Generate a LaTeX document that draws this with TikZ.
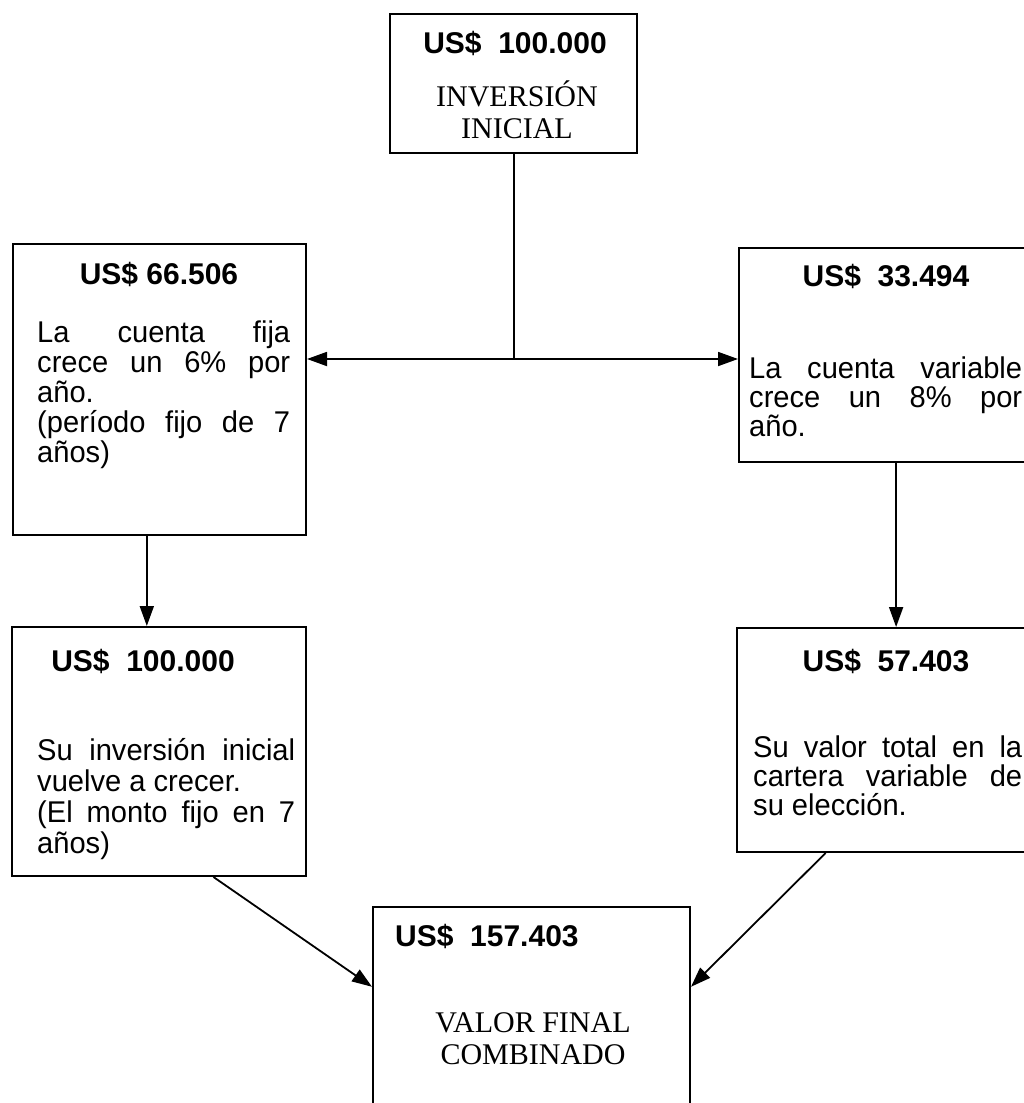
\documentclass[tikz,border=0pt]{standalone}
\usepackage{fontspec}
\setmainfont{Liberation Sans}
\newfontfamily\myserif{Liberation Serif}
\newfontfamily\mybody[FakeStretch=0.97]{Liberation Sans}
\usetikzlibrary{arrows.meta,calc}
\tikzset{
  box/.style={draw, line width=2pt, rectangle, inner sep=0pt},
  conn/.style={line width=1.8pt},
  arr/.style={conn, -{Triangle[length=20pt,width=14pt]}},
  head/.style={inner sep=0pt, anchor=base, font=\bfseries\fontsize{30}{32}\selectfont},
  headl/.style={inner sep=0pt, anchor=base west, font=\bfseries\fontsize{30}{32}\selectfont},
  body/.style={inner sep=0pt, anchor=base west, font=\mybody\fontsize{30}{#1}\selectfont},
  ttl/.style={inner sep=0pt, anchor=base, font=\myserif\fontsize{30}{32}\selectfont},
}
\begin{document}
\begin{tikzpicture}[x=1pt,y=-1pt]
\useasboundingbox (0,0) rectangle (1024,1103);
\fill[white] (0,0) rectangle (1024,1103);

% boxes
\node[box, minimum width=247pt, minimum height=139pt] (top) at (513.5,83.5) {};
\node[box, minimum width=293pt, minimum height=291pt] (L1) at (159.5,389.5) {};
\node[box, minimum width=286pt, minimum height=214pt] (R1) at (882,355) {};
\node[box, minimum width=294pt, minimum height=249pt] (L2) at (159,751.5) {};
\node[box, minimum width=288pt, minimum height=224pt] (R2) at (881,740) {};
\node[box, minimum width=317pt, minimum height=203pt] (B) at (531.5,1008.5) {};

% texts
\node[head] (tH) at (515,53) {US\$\ \ 100.000};
\node[ttl] (t1) at (517,106) {INVERSIÓN};
\node[ttl] (t2) at (517,138) {INICIAL};

\node[head] (l1H) at (159,284) {US\$ 66.506};
\node[body=30] (l1B) at (37,342) {\parbox[t]{253pt}{La cuenta fija\linebreak crece un 6\% por\linebreak año.\par(período fijo de 7\linebreak años)}};

\node[head] (r1H) at (886,286) {US\$\ \ 33.494};
\node[body=29] (r1B) at (749,378) {\parbox[t]{273pt}{La cuenta variable\linebreak crece un 8\% por\linebreak año.}};

\node[head] (l2H) at (143,671) {US\$\ \ 100.000};
\node[body=31] (l2B) at (37,760) {\parbox[t]{258pt}{Su inversión inicial\linebreak vuelve a crecer.\par(El monto fijo en 7\linebreak años)}};

\node[head] (r2H) at (886,671) {US\$\ \ 57.403};
\node[body=29] (r2B) at (753,757) {\parbox[t]{269pt}{Su valor total en la\linebreak cartera variable de\linebreak su elección.}};

\node[headl] (bH) at (395,946) {US\$\ \ 157.403};
\node[ttl] (b1) at (533,1032) {VALOR FINAL};
\node[ttl] (b2) at (533,1064) {COMBINADO};

% connectors
\coordinate (J) at (514,359);
\draw[conn] (top.south -| J) -- (J);
\draw[arr] (J) -- (J -| L1.east);
\draw[arr] (J) -- (J -| R1.west);
\coordinate (a1) at ($(L1.south west)!0.457!(L1.south east)$);
\draw[arr] (a1) -- (a1 |- L2.north);
\coordinate (a2) at ($(R1.south west)!0.549!(R1.south east)$);
\draw[arr] (a2) -- (a2 |- R2.north);
\draw[arr] ($(L2.south west)!0.684!(L2.south east)$) -- ($(B.north west)!0.394!(B.south west)$);
\draw[arr] ($(R2.south west)!0.309!(R2.south east)$) -- ($(B.north east)!0.394!(B.south east)$);
\end{tikzpicture}
\end{document}
